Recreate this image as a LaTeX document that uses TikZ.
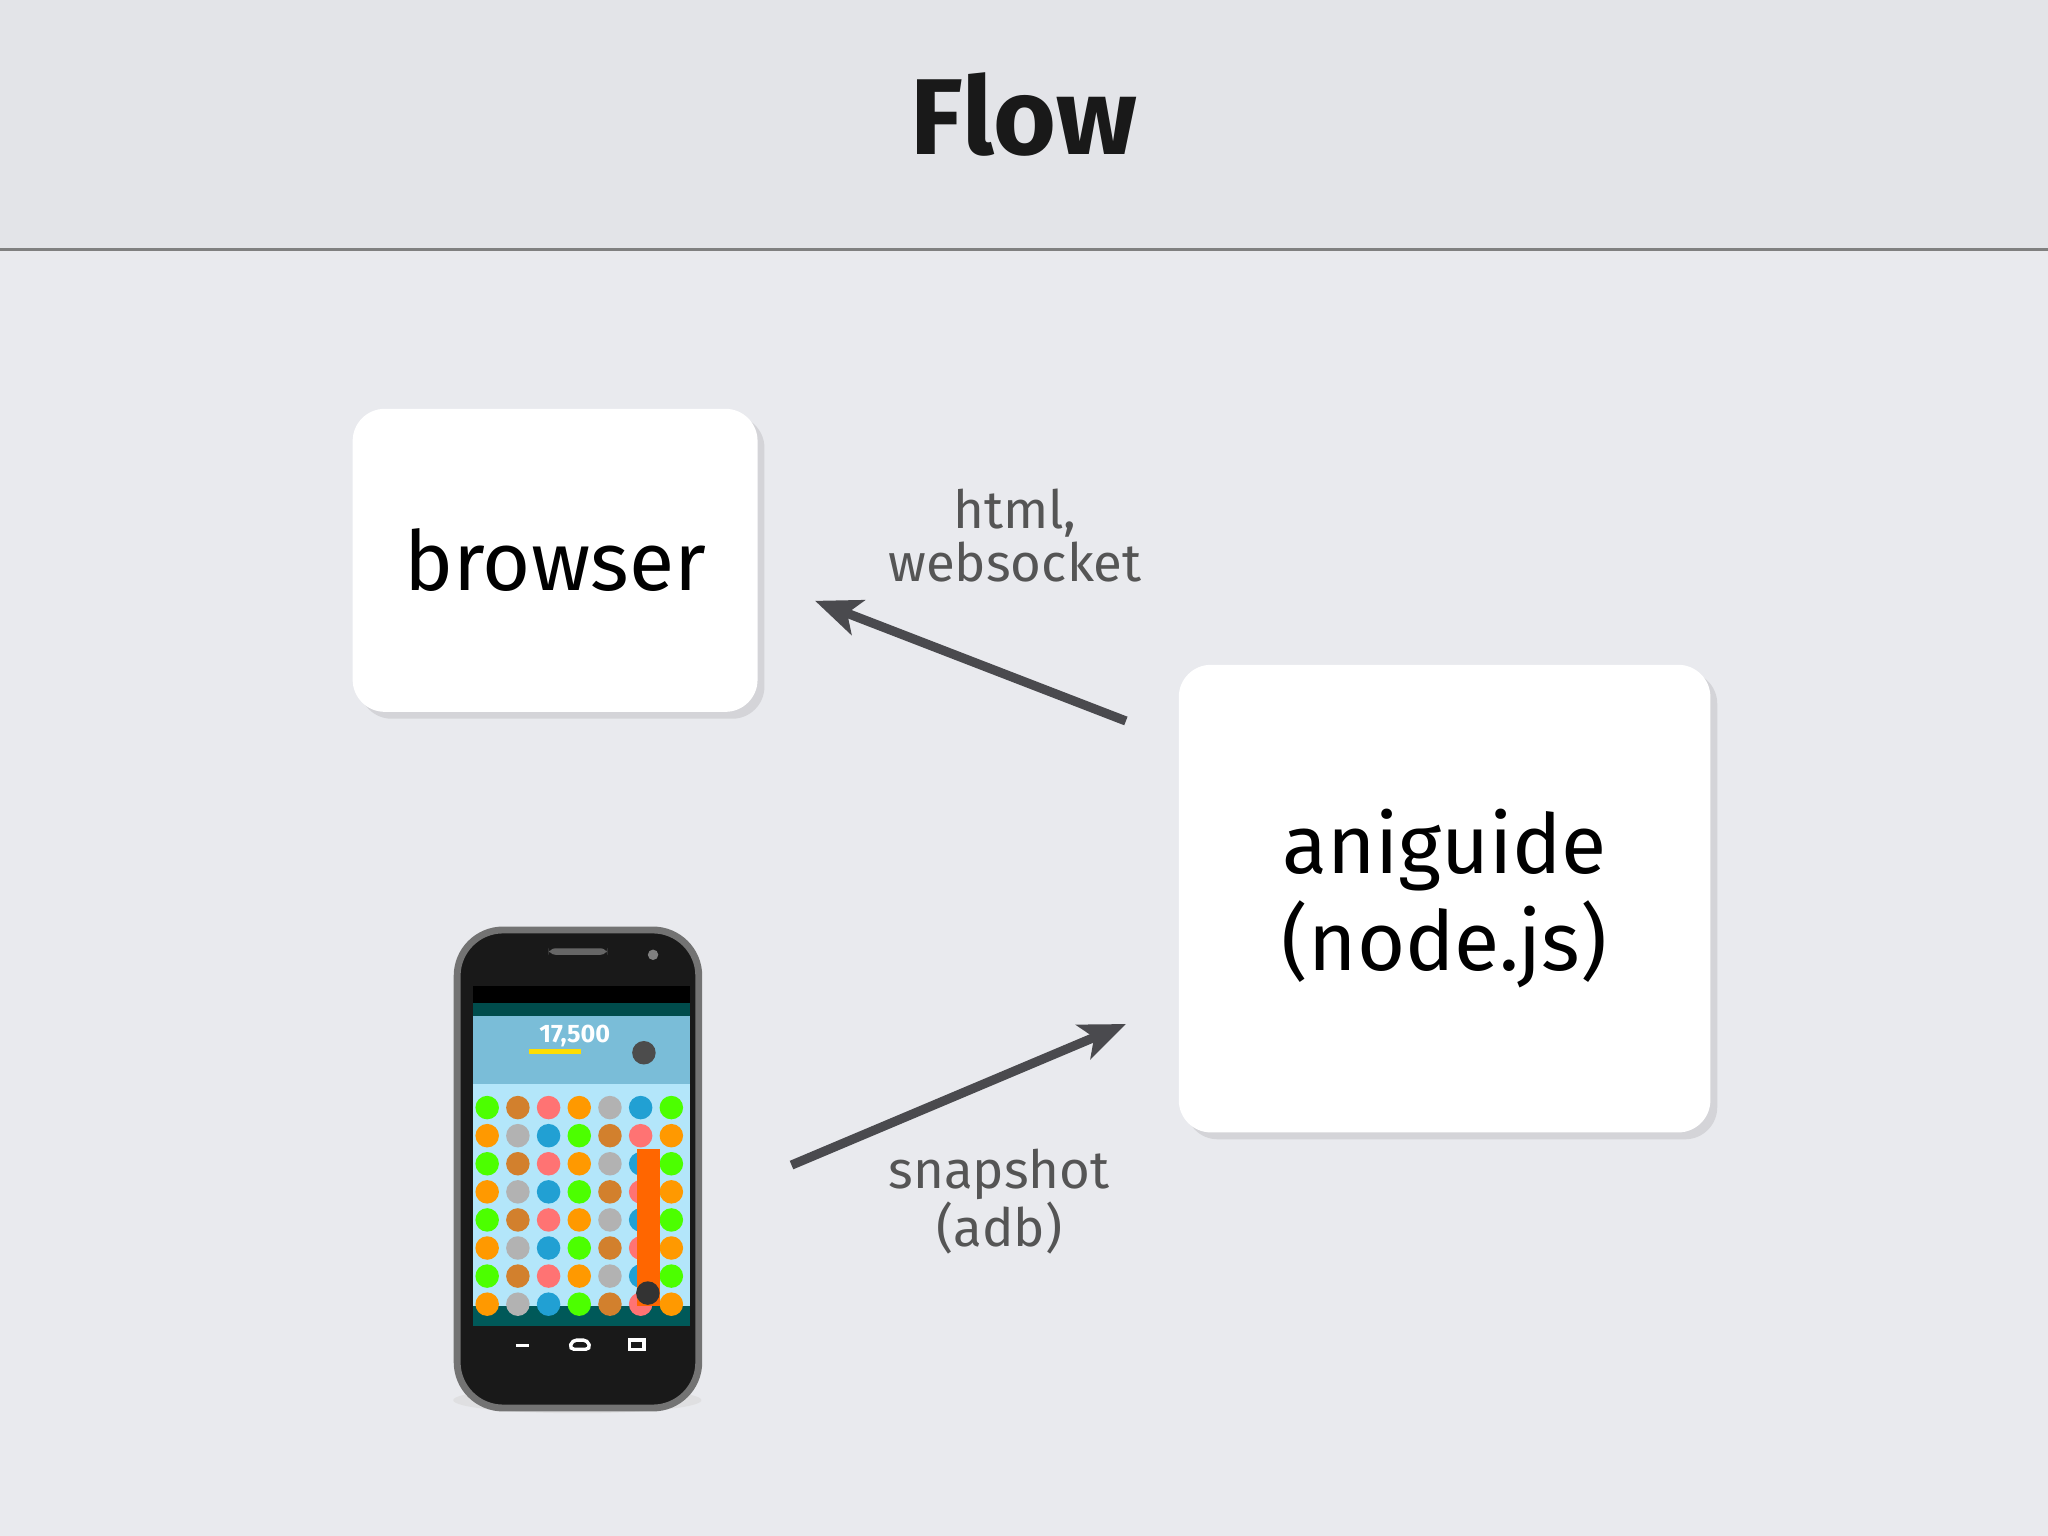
\documentclass[tikz,border=0pt]{standalone}
\usepackage{fontspec}
\setmainfont{Fira Sans}
\usetikzlibrary{shadows,arrows.meta}
\definecolor{bg}{HTML}{E9EAEE}
\definecolor{hdr}{HTML}{E3E4E8}
\definecolor{lbl}{HTML}{555555}
\definecolor{arr}{HTML}{4A4A4E}
\tikzset{
  box/.style={draw=none,fill=white,rounded corners=14pt,drop shadow={shadow xshift=3pt,shadow yshift=-3pt,opacity=0.2}},
  conn/.style={draw=arr,line width=4pt,-{Stealth[length=20pt,width=16pt,inset=5pt]}},
  lab/.style={text=lbl,font=\fontsize{23}{23}\selectfont,align=center}
}
\begin{document}
\begin{tikzpicture}[x=0.02cm,y=-0.02cm]
\useasboundingbox (0,0) rectangle (1568,1176);
\fill[bg] (0,0) rectangle (1568,1176);
\fill[hdr] (0,0) rectangle (1568,191);
\draw[line width=1pt,color=gray] (0,191) -- (1568,191);
\node[font=\fontsize{47}{47}\selectfont\bfseries,text=black!90] (title) at (784,88) {Flow};
\node[box,minimum width=310*0.02cm,minimum height=232*0.02cm] (browser) at (425,429) {};
\node[font=\fontsize{36}{36}\selectfont] at (browser) {browser};
\node[box,minimum width=407*0.02cm,minimum height=358*0.02cm] (ani) at (1106,688) {};
\node[font=\fontsize{36}{42}\selectfont,align=center] at (ani) {aniguide\\(node.js)};
\coordinate (a1) at (862,552);
\coordinate (a2) at (624,460);
\coordinate (b1) at (606,892);
\coordinate (b2) at (862,784);
\draw[conn] (a1) -- (a2);
\draw[conn] (b1) -- (b2);
\node[lab] (l1) at (777,410) {html,\\websocket};
\node[lab] (l2) at (765,920) {snapshot\\(adb)};
% phone
\fill[black!15,opacity=0.6] (442,1072) ellipse (95 and 10);
\filldraw[fill=black!90,draw=black!55,line width=3pt,rounded corners=20pt] (350,712) rectangle (535,1078);
\fill[black!60,rounded corners=3pt] (420,726) rectangle (465,731);
\fill[black!50] (500,731) circle (4);
\fill[black] (362,755) rectangle (528,1015);
\fill[cyan!50!teal!60] (362,768) rectangle (528,830);
\fill[cyan!30!white] (362,830) rectangle (528,1015);
\fill[teal!70!black] (362,1000) rectangle (528,1015);
\fill[teal!60!black] (362,768) rectangle (528,778);
\node[text=white,font=\fontsize{11}{11}\selectfont\bfseries] at (440,793) {17,500};
\fill[yellow!80!orange] (405,803) rectangle (445,807);
\fill[black!70] (493,806) circle (9);
\foreach \r in {0,...,7}{
  \foreach \c in {0,...,6}{
    \pgfmathtruncatemacro{\k}{mod(\r*3+\c*5,6)}
    \ifcase\k \def\cc{green!60!lime}\or\def\cc{cyan!70!teal}\or\def\cc{gray!60}\or\def\cc{orange!80!yellow}\or\def\cc{red!40!pink}\or\def\cc{brown!70!orange}\fi
    \fill[\cc] (373+\c*23.5,848+\r*21.5) circle (9);
  }
}
\fill[orange!80!red] (488,880) -- (505,880) -- (505,1000) -- (488,1000) -- cycle;
\fill[black!80] (496,990) circle (9);
\draw[white!70,line width=1.5pt] (395,1030) -- (405,1030);
\draw[white!70,line width=1.5pt,rounded corners=2pt] (436,1033) -- (438,1026) -- (450,1026) -- (452,1033) -- cycle;
\draw[white!70,line width=1.5pt] (482,1026) rectangle (493,1033);
\end{tikzpicture}
\end{document}
